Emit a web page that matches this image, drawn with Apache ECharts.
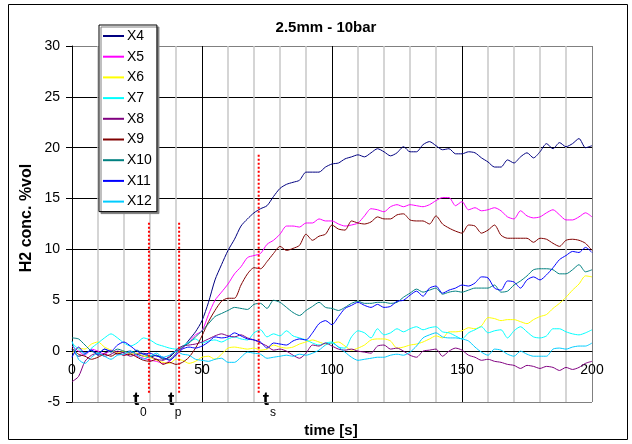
<!DOCTYPE html>
<html><head><meta charset="utf-8">
<script src="https://cdn.jsdelivr.net/npm/echarts@6/dist/echarts.min.js"></script>
<style>html,body{margin:0;padding:0;background:#fff}#c{width:632px;height:444px}</style>
</head><body><div id="c"></div>
<script>
const times = [0,2.5,5,7.5,10,12.5,15,17.5,20,22.5,25,27.5,30,32.5,35,37.5,40,42.5,45,47.5,50,52.5,55,57.5,60,62.5,65,67.5,70,72.5,75,77.5,80,82.5,85,87.5,90,92.5,95,97.5,100,102.5,105,107.5,110,112.5,115,117.5,120,122.5,125,127.5,130,132.5,135,137.5,140,142.5,145,147.5,150,152.5,155,157.5,160,162.5,165,167.5,170,172.5,175,177.5,180,182.5,185,187.5,190,192.5,195,197.5,200];
const X4 = [0.2,-0.5,-0.3,0.1,-0.4,-0.2,0.0,-0.3,-0.1,0.0,
 -0.3,-0.5,-0.6,-0.4,-0.8,-0.6,0.0,0.3,1.1,1.9,
 3.0,4.8,7.0,8.5,9.9,11.0,12.3,13.0,13.6,14.0,
 14.3,15.2,16.0,16.4,16.6,16.8,17.6,17.6,17.6,18.1,
 18.4,18.5,18.9,19.1,19.3,19.1,19.5,19.9,19.6,19.2,
 19.5,20.1,19.6,19.6,20.3,20.6,20.2,19.8,19.9,19.4,
 19.4,19.6,19.5,19.0,18.6,18.1,18.1,18.8,18.5,19.1,
 19.5,19.0,19.6,20.4,19.9,20.5,20.1,20.4,20.9,20.0,
 20.2];
const X5 = [0.5,0.0,-0.4,0.2,0.0,-0.3,0.1,-0.2,-0.4,-0.1,
 -0.5,-0.7,-0.9,-1.0,-1.2,-1.0,-0.3,0.3,0.9,1.6,
 2.0,3.6,5.0,5.8,6.6,7.6,8.3,9.2,9.4,9.6,
 10.5,10.9,11.5,12.3,12.3,12.2,12.6,12.6,13.0,12.8,
 12.8,12.5,12.3,12.4,12.6,13.3,14.0,13.9,13.7,14.2,
 14.4,14.2,14.4,14.3,14.2,14.4,14.8,15.1,15.1,14.3,
 14.7,13.9,14.1,13.8,13.9,14.1,13.8,13.2,13.0,13.8,
 13.3,13.1,13.2,13.6,13.9,13.4,12.9,12.9,13.2,13.6,
 13.2];
const X6 = [-0.2,0.3,0.2,0.7,0.9,0.4,0.1,-0.2,0.0,-0.3,
 -0.2,-0.5,-0.6,-0.9,-1.1,-1.2,-0.8,-0.9,-1.2,-1.0,
 -0.6,-0.5,-0.8,-0.3,0.3,0.4,0.3,0.2,0.3,0.1,
 0.2,0.6,0.4,0.3,0.4,0.7,0.9,1.1,0.9,0.7,
 0.8,0.9,0.5,0.1,0.3,0.6,1.1,1.2,1.2,1.0,
 0.3,0.4,0.6,0.7,0.9,1.2,1.5,1.3,1.9,1.9,
 2.0,2.3,2.2,2.5,3.3,3.2,3.0,3.1,3.1,2.9,
 2.7,3.1,3.4,3.6,4.2,4.7,5.3,6.0,6.6,7.4,
 7.3];
const X7 = [0.8,0.2,-0.3,0.3,0.8,1.3,1.7,1.3,0.8,0.5,
 0.8,1.3,1.1,0.7,0.5,0.3,0.2,0.5,0.9,1.2,
 0.8,1.0,1.1,0.9,1.2,1.4,1.2,1.1,1.8,2.1,
 1.4,1.7,1.5,2.0,1.5,1.3,1.1,0.8,0.6,0.8,
 0.9,0.4,0.3,1.4,2.0,1.8,1.3,2.2,1.6,1.8,
 2.2,1.9,2.2,2.4,2.1,2.3,2.4,1.9,1.8,1.5,
 1.2,1.8,2.1,2.4,1.8,2.0,2.1,1.3,2.0,2.4,
 1.9,1.4,1.3,1.5,2.2,2.2,1.9,1.7,1.6,1.8,
 2.1];
const X8 = [-3.0,-2.5,-1.0,-0.4,-0.2,-0.5,-0.3,0.0,-0.2,-0.5,
 -0.3,-0.2,-0.5,-0.8,-0.9,-0.5,0.1,0.5,0.6,0.7,
 0.9,1.2,1.5,1.7,1.5,1.4,1.6,1.3,1.1,0.8,
 0.5,0.1,0.2,0.0,-0.4,-0.7,-0.2,0.6,0.5,0.8,
 0.5,0.2,0.1,0.2,0.0,-0.1,-0.2,0.5,0.6,0.2,
 0.3,0.0,-0.4,-0.6,0.0,0.1,0.2,-0.5,0.0,0.3,
 0.1,-0.4,-0.6,-0.9,-0.8,-1.0,-1.1,-1.3,-1.4,-1.7,
 -1.4,-1.5,-1.7,-1.5,-1.6,-1.9,-1.6,-1.8,-1.6,-1.2,
 -1.0];
const X9 = [0.3,-0.3,-0.5,-0.8,-0.6,-0.3,-0.5,-0.2,-0.4,-0.3,
 -0.6,-0.9,-1.0,-0.8,-1.3,-1.1,-1.3,-1.1,-0.6,0.3,
 1.5,2.9,4.0,4.9,5.2,5.2,6.5,7.6,8.2,8.1,
 8.8,9.6,10.3,9.9,10.1,10.4,11.5,10.9,11.3,11.5,
 12.4,12.0,11.9,12.8,12.6,12.5,12.7,13.2,13.0,13.0,
 13.4,13.5,12.9,12.8,12.8,12.5,13.3,12.5,12.1,11.8,
 11.6,12.4,12.3,11.6,11.9,12.4,11.4,11.1,11.1,11.1,
 11.1,10.7,11.1,11.0,10.6,10.3,10.9,11.0,10.9,10.6,
 9.9];
const X10 = [1.3,1.2,0.6,0.0,-0.2,0.2,-0.1,0.2,0.0,-0.2,
 0.1,-0.3,-0.5,-0.4,-0.7,-0.8,-0.2,0.4,0.8,1.4,
 2.0,2.7,3.4,3.7,4.0,4.3,4.2,4.1,4.6,4.7,
 4.2,5.0,4.8,4.3,3.8,3.5,4.0,4.4,4.8,4.3,
 4.2,4.0,4.3,4.7,4.9,4.7,4.7,4.8,4.8,4.7,
 4.8,5.3,5.7,6.1,5.8,6.0,6.2,5.6,5.8,5.9,
 5.8,6.0,6.2,6.2,6.2,6.5,5.8,5.9,6.5,6.9,
 7.4,8.0,8.1,8.1,8.0,7.6,7.6,8.0,8.5,7.8,
 8.0];
const X11 = [-0.6,0.4,-0.2,0.1,-0.3,0.2,0.0,0.6,0.9,0.5,
 0.0,-0.3,-0.2,-0.5,-0.6,-0.9,-0.4,0.2,0.4,0.3,
 0.5,0.9,1.4,1.3,1.4,1.8,1.5,1.2,1.1,0.9,
 0.3,0.8,0.7,0.6,1.0,1.2,1.1,1.8,2.7,3.0,
 2.6,3.4,4.2,4.5,4.8,4.5,4.3,4.6,4.3,4.4,
 4.9,5.0,5.5,5.9,5.4,6.2,6.4,5.7,6.0,6.2,
 6.5,6.4,6.7,7.3,7.2,6.2,6.0,6.9,6.8,6.2,
 7.0,7.3,7.0,7.5,8.2,9.0,9.4,9.8,9.7,10.2,
 9.7];
const X12 = [1.0,-0.8,-1.2,-0.6,-0.2,-0.5,-0.8,-0.4,-0.3,0.0,
 -0.4,-0.8,-0.5,-0.2,-0.6,-0.4,0.0,-0.3,-0.4,-0.8,
 -0.9,-1.0,-0.8,-0.7,-1.1,-1.1,-0.6,-0.1,-0.2,-0.3,
 -0.7,-0.6,-0.5,-0.4,-0.5,-0.3,-0.4,-0.2,0.1,0.6,
 0.8,0.4,-0.1,-0.6,-0.9,-0.8,-0.7,-0.6,-0.6,-0.4,
 -0.3,-0.4,-0.1,0.5,1.3,1.6,1.8,1.4,1.3,1.3,
 1.2,1.0,0.4,-0.1,-0.4,0.2,0.1,-0.3,-0.5,0.0,
 -0.3,-0.5,-0.5,-0.5,0.2,0.3,0.2,0.4,0.5,0.5,
 0.8];
const seriesNames = ['X4','X5','X6','X7','X8','X9','X10','X11','X12'];
const seriesValues = [X4,X5,X6,X7,X8,X9,X10,X11,X12];
const seriesColors = ['#000080','#FF00FF','#FFFF00','#00FFFF','#800080','#800000','#008080','#0000FF','#00CCFF'];
const markerTimes = [29.6, 41.2, 71.8];
const markerTops = [12.8, 12.8, 19.4];
const markerBottom = -4.1;
const markerSubs = ['0','p','s'];
const markerLabelTimes = [24.7, 38.1, 74.6];
const yTicks = {min:-5, max:30, interval:5};
const xTicks = {min:0, max:200, interval:50};
const titleText = '2.5mm - 10bar';
const xName = 'time [s]';
const yName = 'H2 conc. %vol';

const FONT = '"Liberation Sans", Arial, sans-serif';
const GRID = {left:72, right:40, top:46, bottom:42};
const plotH = 444 - GRID.top - GRID.bottom;
const zeroOffset = -(0 - yTicks.min) / (yTicks.max - yTicks.min) * plotH;

const chart = echarts.init(document.getElementById('c'), null, {renderer:'canvas'});

const series = seriesNames.map((n,k)=>({
  name:n, type:'line', symbol:'none', smooth:0.25, animation:false,
  data: times.map((t,i)=>[t, seriesValues[k][i]]),
  lineStyle:{width:1, color:seriesColors[k]}, itemStyle:{color:seriesColors[k]}, z:3
}));
markerTimes.forEach((t,i)=>{
  series.push({name:'m'+i, type:'line', symbol:'none', animation:false, silent:true,
    data:[[t, markerBottom],[t, markerTops[i]]],
    lineStyle:{width:2, color:'#FF0000', type:[2,2]}, z:5});
});

const option = {
  animation:false,
  textStyle:{fontFamily:FONT},
  grid:Object.assign({containLabel:false}, GRID),
  xAxis:{type:'value', min:xTicks.min, max:xTicks.max, interval:xTicks.interval,
    offset: zeroOffset,
    axisLine:{onZero:false, lineStyle:{color:'#000', width:1}},
    axisTick:{show:false},
    axisLabel:{color:'#000', fontSize:14, margin:12, fontFamily:FONT},
    splitLine:{show:true, lineStyle:{color:['#808080','#000','#000','#000','#808080'], width:1}},
    minorTick:{show:false, splitNumber:5},
    minorSplitLine:{show:true, lineStyle:{color:'#c8c8c8', width:1.5}}
  },
  yAxis:{type:'value', min:yTicks.min, max:yTicks.max, interval:yTicks.interval,
    axisLine:{show:true, lineStyle:{color:'#000', width:1}},
    axisTick:{show:true, inside:false, length:6, lineStyle:{color:'#000'}},
    axisLabel:{color:'#000', fontSize:14, margin:12, fontFamily:FONT},
    splitLine:{show:true, lineStyle:{color:['#808080','#000','#000','#000','#000','#000','#000','#808080'], width:1}}
  },
  legend:{data:seriesNames, orient:'vertical', left:99, top:25, icon:'rect',
    itemWidth:21, itemHeight:2, itemGap:6.7, padding:[4,5,3,4],
    backgroundColor:'#fff', borderColor:'#000', borderWidth:1,
    shadowColor:'#808080', shadowOffsetX:2, shadowOffsetY:2, shadowBlur:0,
    textStyle:{color:'#000', fontSize:14, lineHeight:14, fontFamily:FONT, padding:[0,0,0,-2]}},
  series: series,
  graphic:[]
};
chart.setOption(option);

const gfx = [
  {type:'rect', shape:{x:8.5, y:4.5, width:619, height:435}, style:{fill:null, stroke:'#000', lineWidth:1}, z:0, silent:true},
  {type:'text', x:326, y:28, style:{text:titleText, font:'bold 15px '+FONT, fill:'#000', align:'center', verticalAlign:'middle'}},
  {type:'text', x:331, y:431, style:{text:xName, font:'bold 15px '+FONT, fill:'#000', align:'center', verticalAlign:'middle'}},
  {type:'text', x:27, y:218, rotation:Math.PI/2, style:{text:yName, font:'bold 16px '+FONT, fill:'#000', align:'center', verticalAlign:'middle'}}
];
markerLabelTimes.forEach((t,i)=>{
  const p = chart.convertToPixel({gridIndex:0}, [t, markerBottom]);
  gfx.push({type:'text', x:p[0], y:400, style:{text:'t', font:'bold 19px '+FONT, fill:'#000', align:'center', verticalAlign:'middle'}});
  gfx.push({type:'text', x:p[0]+7, y:413, style:{text:markerSubs[i], font:'12px '+FONT, fill:'#000', align:'center', verticalAlign:'middle'}});
});
chart.setOption({graphic:gfx});
</script></body></html>
